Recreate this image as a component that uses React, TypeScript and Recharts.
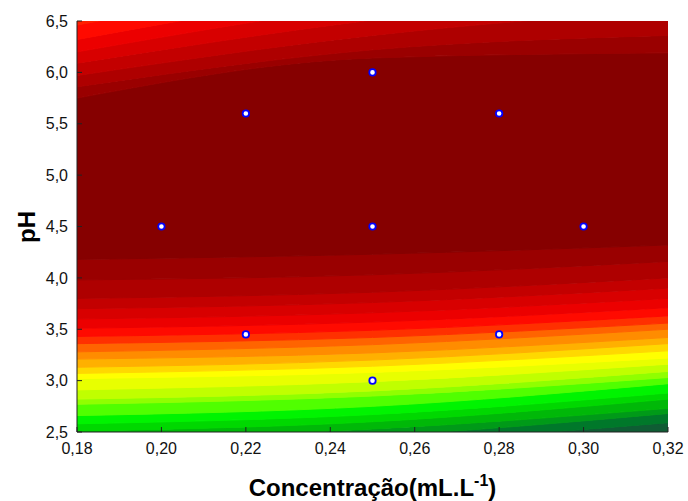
import { ComposedChart, Area, Scatter, XAxis, YAxis } from "recharts";

// axis ticks
const xTicks = [0.18, 0.2, 0.22, 0.24, 0.26, 0.28, 0.3, 0.32];
const yTicks = [2.5, 3, 3.5, 4, 4.5, 5, 5.5, 6, 6.5];

// contour band boundaries (pH), read at three concentrations, bottom to top
const contourX = [0.18, 0.25, 0.32];
const levelsAt018 = [
  2.31, 2.37, 2.44, 2.51, 2.58, 2.66, 2.77, 2.82, 2.91, 3.02, 3.07, 3.13, 3.21,
  3.28, 3.36, 3.43, 3.51, 3.6, 3.7, 3.8, 3.98, 4.18, 5.75, 5.86, 5.97, 6.09,
  6.2, 6.32, 6.46,
];
const levelsAt025 = [
  2.39, 2.46, 2.53, 2.6, 2.67, 2.75, 2.85, 2.9, 2.99, 3.08, 3.14, 3.2, 3.27,
  3.35, 3.42, 3.49, 3.57, 3.66, 3.76, 3.86, 4.03, 4.23, 6.14, 6.22, 6.36, 6.51,
  6.66, 6.8, 6.95,
];
const levelsAt032 = [
  2.59, 2.68, 2.73, 2.82, 2.88, 2.97, 3.03, 3.09, 3.16, 3.22, 3.29, 3.36, 3.42,
  3.5, 3.56, 3.63, 3.71, 3.8, 3.9, 4.0, 4.16, 4.32, 6.19, 6.36, 6.61, 6.8, 6.95,
  7.09, 7.2,
];
const bandColors = [
  "#0f5c34", "#00782a", "#009a18", "#00b808", "#00d800", "#00f400", "#50ff00",
  "#90ff00", "#c0ff00", "#e8ff00", "#ffff00", "#ffd800", "#ffb000", "#ff8c00",
  "#ff6400", "#ff3000", "#ff0a00", "#ec0000", "#d80000", "#c30000", "#ae0000",
  "#9a0000", "#860000",
  "#9a0000", "#ae0000", "#c30000", "#d80000", "#ec0000", "#ff0a00", "#ff2000",
];

// experimental design points
const designConc = [0.2, 0.22, 0.22, 0.25, 0.25, 0.25, 0.28, 0.28, 0.3];
const designPH = [4.5, 5.6, 3.45, 6.0, 4.5, 3.0, 5.6, 3.45, 4.5];

const levelsByX = [levelsAt018, levelsAt025, levelsAt032];
const bandRows = contourX.map((x, i) => {
  const edges = [1.5, ...levelsByX[i], 8];
  const row: Record<string, any> = { x };
  bandColors.forEach((_, k) => {
    row["b" + k] = [edges[k], edges[k + 1]];
  });
  return row;
});

const points = designConc.map((x, i) => ({ x, y: designPH[i] }));

const font = "'Liberation Sans', Arial, sans-serif";
const comma = (d: number) => (v: number) => v.toFixed(d).replace(".", ",");

const PointShape = (props: any) => (
  <circle
    cx={props.cx}
    cy={props.cy}
    r={3.2}
    fill="#ffffff"
    stroke="#0000ff"
    strokeWidth={1.8}
  />
);

const XTitle = ({ viewBox }: any) => {
  const cx = viewBox.x + viewBox.width / 2;
  return (
    <text
      x={cx}
      y={viewBox.y + 64}
      textAnchor="middle"
      fontFamily={font}
      fontWeight="bold"
      fontSize={24}
      fill="#000"
    >
      Concentração(mL.L
      <tspan dy={-10} fontSize={16}>
        -1
      </tspan>
      <tspan dy={10}>)</tspan>
    </text>
  );
};

const YTitle = () => (
  <text
    x={26}
    y={227}
    transform="rotate(-90 26 227)"
    textAnchor="middle"
    dominantBaseline="central"
    fontFamily={font}
    fontWeight="bold"
    fontSize={24}
    fill="#000"
  >
    pH
  </text>
);

export default function App() {
  return (
    <div style={{ position: "absolute", left: 0, top: 0, width: 688, height: 501, background: "#fff" }}>
      <ComposedChart
        width={688}
        height={501}
        data={bandRows}
        margin={{ top: 21, right: 20, bottom: 0, left: 0 }}
      >
        <XAxis
          dataKey="x"
          type="number"
          domain={[0.18, 0.32]}
          ticks={xTicks}
          allowDataOverflow
          tickFormatter={comma(2)}
          height={69}
          tickSize={-5}
          tickMargin={16}
          axisLine={{ stroke: "#222" }}
          tickLine={{ stroke: "#222" }}
          tick={{ fill: "#111", fontSize: 16, fontFamily: font }}
          label={<XTitle />}
        />
        <XAxis
          xAxisId="top"
          orientation="top"
          type="number"
          domain={[0.18, 0.32]}
          ticks={xTicks}
          tickFormatter={() => ""}
          height={0}
          tickSize={-5}
          axisLine={{ stroke: "#222" }}
          tickLine={{ stroke: "#222" }}
        />
        <YAxis
          dataKey="y"
          type="number"
          domain={[2.5, 6.5]}
          ticks={yTicks}
          allowDataOverflow
          tickFormatter={comma(1)}
          width={77}
          tickSize={-5}
          tickMargin={14}
          axisLine={{ stroke: "#222" }}
          tickLine={{ stroke: "#222" }}
          tick={{ fill: "#111", fontSize: 16, fontFamily: font }}
          label={<YTitle />}
        />
        <YAxis
          yAxisId="right"
          orientation="right"
          type="number"
          domain={[2.5, 6.5]}
          ticks={yTicks}
          tickFormatter={() => ""}
          width={0}
          tickSize={-5}
          axisLine={{ stroke: "#222" }}
          tickLine={{ stroke: "#222" }}
        />
        {bandColors.map((c, k) => (
          <Area
            key={k}
            dataKey={"b" + k}
            type="monotone"
            fill={c}
            fillOpacity={1}
            stroke={c}
            strokeWidth={1}
            dot={false}
            activeDot={false}
            isAnimationActive={false}
          />
        ))}
        <Scatter
          data={points}
          dataKey="y"
          shape={<PointShape />}
          isAnimationActive={false}
        />
      </ComposedChart>
    </div>
  );
}
